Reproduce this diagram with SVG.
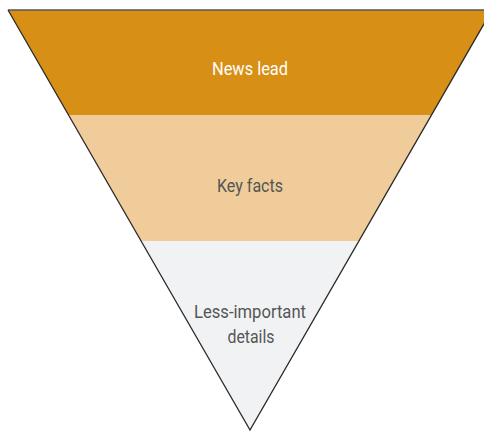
<svg xmlns="http://www.w3.org/2000/svg" width="484" height="431" viewBox="0 0 484 431">
<style>
.lbl{font-family:Roboto,"Liberation Sans",sans-serif;font-size:19px;text-anchor:middle}
.w{fill:#ffffff}
.d{fill:#555555}
</style>
<rect width="484" height="431" fill="#ffffff"/>
<g id="band-lead">
<polygon points="8,10 492,10 431.6,115 68.4,115" fill="#D78F15"/>
<text class="lbl w" x="250" y="75" textLength="76" lengthAdjust="spacingAndGlyphs">News lead</text>
</g>
<g id="band-facts">
<polygon points="68.4,115 431.6,115 359.1,241 140.9,241" fill="#F0CC9A"/>
<text class="lbl d" x="250" y="192" textLength="66" lengthAdjust="spacingAndGlyphs">Key facts</text>
</g>
<g id="band-details">
<polygon points="140.9,241 359.1,241 250,430 " fill="#F1F2F4"/>
<text class="lbl d" x="250" y="318" textLength="112" lengthAdjust="spacingAndGlyphs">Less-important</text>
<text class="lbl d" x="251" y="343" textLength="47" lengthAdjust="spacingAndGlyphs">details</text>
</g>
<g id="connectors" fill="none">
<line x1="8" y1="10" x2="484" y2="10" stroke="#555555" stroke-width="1.5"/>
<polyline points="8,10 250,430 492,10" stroke="#2b2b2b" stroke-width="1.3"/>
</g>
</svg>
